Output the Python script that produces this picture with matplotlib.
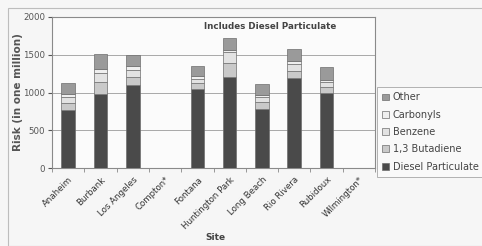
import matplotlib
matplotlib.use("Agg")
import matplotlib.pyplot as plt
import numpy as np
from matplotlib.patches import Rectangle

sites = ["Anaheim", "Burbank", "Los Angeles", "Compton*", "Fontana",
         "Huntington Park", "Long Beach", "Rio Rivera", "Rubidoux", "Wilmington*"]
diesel = [765, 985, 1100, 0, 1050, 1200, 775, 1197, 1000, 0]
butadiene = [90, 150, 105, 0, 70, 195, 95, 85, 72, 0]
benzene = [80, 125, 95, 0, 55, 140, 70, 90, 65, 0]
carbonyls = [40, 45, 50, 0, 40, 30, 30, 40, 30, 0]
other = [145, 205, 145, 0, 140, 155, 145, 160, 165, 0]

series = [("Diesel Particulate", diesel, "#4a4a4a"),
          ("1,3 Butadiene", butadiene, "#c9c9c9"),
          ("Benzene", benzene, "#e2e2e2"),
          ("Carbonyls", carbonyls, "#efefef"),
          ("Other", other, "#9a9a9a")]

fig = plt.figure(figsize=(4.82, 2.46), dpi=100)
fig.patch.set_facecolor("#f6f6f6")
fig.patches.append(Rectangle((8/482, 0), 1, 1 - 8/246, transform=fig.transFigure,
                             fill=False, edgecolor="#bdbdbd", linewidth=0.8))

ax = fig.add_axes([52/482, 1 - 168/246, (375 - 52)/482, (168 - 17)/246])
ax.set_facecolor("#fbfbfb")
x = np.arange(len(sites))
bottom = np.zeros(len(sites))
handles = []
for name, vals, col in series:
    v = np.array(vals, dtype=float)
    h = ax.bar(x, v, 0.42, bottom=bottom, color=col, edgecolor="#6e6e6e",
               linewidth=0.5, label=name, zorder=3)
    handles.append(h)
    bottom += v

ax.set_xlim(-0.5, len(sites) - 0.5)
ax.set_ylim(0, 2000)
ax.set_yticks([0, 500, 1000, 1500, 2000])
ax.yaxis.grid(True, color="#a8a8a8", linewidth=0.7, zorder=0)
ax.set_xticks(x)
ax.set_xticklabels(sites, rotation=45, ha="right", rotation_mode="anchor",
                   fontsize=6.2, color="#333333")
ax.set_xticks(np.arange(-0.5, len(sites), 1), minor=True)
ax.tick_params(axis="x", which="major", length=0, pad=5)
ax.tick_params(axis="x", which="minor", length=3, color="#888888")
ax.tick_params(axis="y", labelsize=6.2, colors="#555555", length=3, pad=2)
for s in ax.spines.values():
    s.set_color("#8a8a8a")
    s.set_linewidth(0.8)

ax.set_ylabel("Risk (in one million)", fontsize=7.5, fontweight="bold", color="#555555")
ax.yaxis.label.set_verticalalignment("center")
ax.yaxis.set_label_coords((18 - 52) / 323, 0.5)
ax.set_xlabel("Site", fontsize=6.5, fontweight="bold", color="#444444")
ax.xaxis.set_label_coords((215 - 52) / 323, (168 - 238) / 151)
ax.xaxis.label.set_verticalalignment("center")
ax.text((270 - 52) / 323, 0.934, "Includes Diesel Particulate", transform=ax.transAxes,
        ha="center", va="center", fontsize=6.3, fontweight="bold", color="#444444")

leg = fig.legend(handles[::-1], [s[0] for s in series][::-1], loc="upper left",
                 bbox_to_anchor=(377/482, 1 - 87/246), fontsize=7, frameon=True,
                 fancybox=False, labelspacing=0.75, handlelength=0.7, handleheight=0.7,
                 handletextpad=0.35, borderpad=0.55, borderaxespad=0, labelcolor="#444444")
leg.get_frame().set_edgecolor("#a0a0a0")
leg.get_frame().set_facecolor("#fbfbfb")
leg.get_frame().set_linewidth(0.7)

fig.savefig("out.png", dpi=100, facecolor=fig.get_facecolor())
